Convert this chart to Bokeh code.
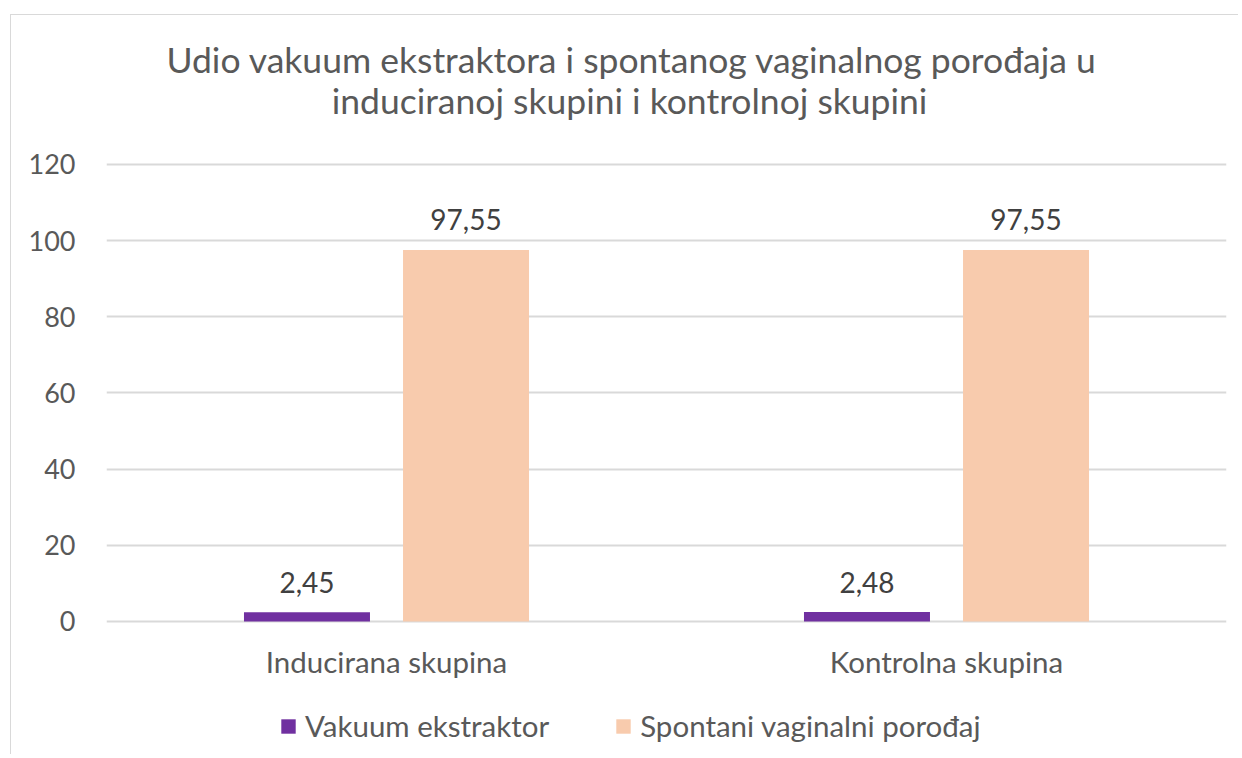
from bokeh.plotting import figure
from bokeh.models import ColumnDataSource, FactorRange, Range1d, Legend, LegendItem, Label, FixedTicker
from bokeh.transform import dodge
from bokeh.core.properties import value
from bokeh.embed import file_html
from bokeh.resources import INLINE

# ---- data ----
categories = ["Inducirana skupina", "Kontrolna skupina"]
vakuum = [2.45, 2.48]
spontani = [97.55, 97.55]
series_names = ["Vakuum ekstraktor", "Spontani vaginalni porođaj"]
title_lines = ["Udio vakuum ekstraktora i spontanog vaginalnog porođaja u",
               "induciranoj skupini i kontrolnoj skupini"]
y_ticks = [0, 20, 40, 60, 80, 100, 120]


def fmt(v):
    return f"{v:.2f}".replace(".", ",")


src = ColumnDataSource(dict(
    cat=categories,
    base=[0] * len(categories),
    vak=vakuum,
    spo=spontani,
    vak_lbl=[fmt(v) for v in vakuum],
    spo_lbl=[fmt(v) for v in spontani],
))

FONT = "Lato"
GREY = "#595959"
DARK = "#404040"
PURPLE = "#7030A0"
PEACH = "#F8CBAD"
GRID = "#D9D9D9"

# the frame spans the full chart height; the value scale is 0..120 over the
# plot band, with room kept above for the title and below for labels/legend
p = figure(
    x_range=FactorRange(factors=categories, range_padding=0),
    y_range=Range1d(-35.19, 159.12),
    width=1228, height=740,
    min_border_left=95, min_border_right=13,
    min_border_top=0, min_border_bottom=0,
    output_backend="svg", toolbar_location=None, title=None,
)
p.margin = (14, 0, 0, 10)
p.styles = {"border-left": "1px solid #D9D9D9", "border-top": "1px solid #D9D9D9"}
p.outline_line_color = None
p.background_fill_color = "white"
p.border_fill_color = "white"

off = 0.142
bw = 0.225
r1 = p.vbar(x=dodge("cat", -off, range=p.x_range), top="vak", width=bw, source=src,
            fill_color=PURPLE, line_color=None)
r2 = p.vbar(x=dodge("cat", off, range=p.x_range), top="spo", width=bw, source=src,
            fill_color=PEACH, line_color=None)

# data labels
p.text(x=dodge("cat", -off, range=p.x_range), y="vak", text="vak_lbl", source=src,
       text_font=value(FONT), text_font_size="28px", text_color=DARK,
       text_align="center", text_baseline="alphabetic", y_offset=-30)
p.text(x=dodge("cat", off, range=p.x_range), y="spo", text="spo_lbl", source=src,
       text_font=value(FONT), text_font_size="28px", text_color=DARK,
       text_align="center", text_baseline="alphabetic", y_offset=-30)

# category labels under the baseline
p.text(x="cat", y="base", text="cat", source=src,
       text_font=value(FONT), text_font_size="29.5px", text_color=GREY,
       text_align="center", text_baseline="alphabetic", y_offset=40)

# axes
p.yaxis.ticker = FixedTicker(ticks=y_ticks)
p.yaxis.axis_line_color = None
p.yaxis.major_tick_line_color = None
p.yaxis.minor_tick_line_color = None
p.yaxis.major_tick_in = 0
p.yaxis.major_tick_out = 0
p.yaxis.major_label_text_font = FONT
p.yaxis.major_label_text_font_size = "27px"
p.yaxis.major_label_text_color = GREY
p.yaxis.major_label_standoff = 31
p.xaxis.visible = False

p.xgrid.grid_line_color = None
p.ygrid.ticker = FixedTicker(ticks=y_ticks)
p.ygrid.grid_line_color = GRID
p.ygrid.grid_line_width = 2

# title
p.add_layout(Label(x=0.9384, y=147.6, text=title_lines[0],
                   text_align="center", text_baseline="alphabetic",
                   text_font=FONT, text_font_size="35.5px", text_color=GREY))
p.add_layout(Label(x=0.934, y=136.8, text=title_lines[1],
                   text_align="center", text_baseline="alphabetic",
                   text_font=FONT, text_font_size="35.5px", text_color=GREY))

legend = Legend(
    items=[LegendItem(label=series_names[0], renderers=[r1]),
           LegendItem(label=series_names[1], renderers=[r2])],
    orientation="horizontal", location=(173, 12),
    glyph_width=18, glyph_height=18, label_standoff=8, spacing=65,
    padding=0, margin=0, border_line_color=None, background_fill_alpha=0,
    label_text_font=FONT, label_text_font_size="29.5px", label_text_color=GREY,
)
p.add_layout(legend, "center")

open("out.html", "w").write(file_html(p, INLINE))
